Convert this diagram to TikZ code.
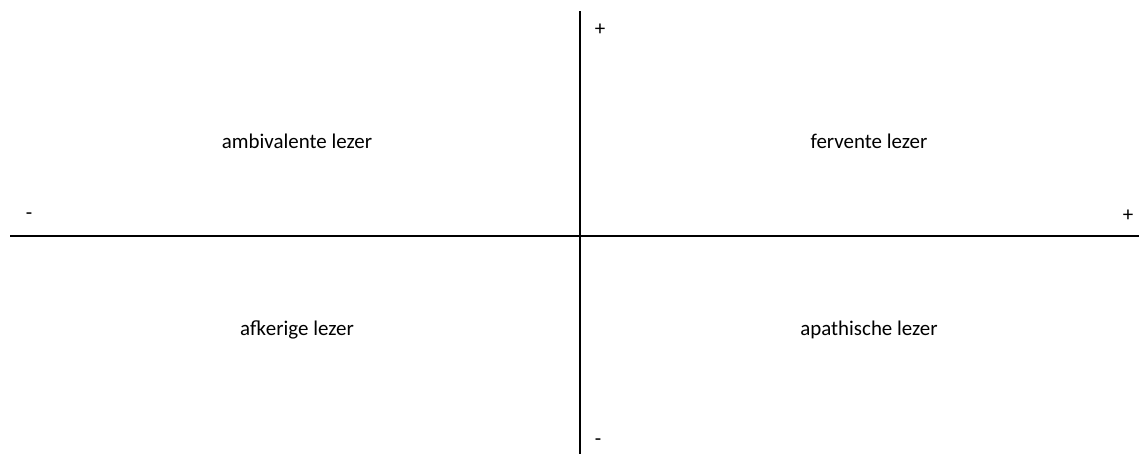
\documentclass[tikz,border=0pt]{standalone}
\usepackage{fontspec}
\setmainfont{Carlito}
\usetikzlibrary{positioning}

\begin{document}
\begin{tikzpicture}[x=0.75pt,y=-0.75pt,
  every node/.style={font=\fontsize{15.7}{18}\selectfont},
  axis/.style={line width=1.5pt}]
  \useasboundingbox (0,0) rectangle (1139,454);
  % axes
  \coordinate (top) at (580,11);
  \coordinate (bottom) at (580,454);
  \coordinate (left) at (10,236);
  \coordinate (right) at (1139,236);
  \draw[axis] (top) -- (bottom);
  \draw[axis] (left) -- (right);
  % signs
  \node (vplus) at (600,30) {+};
  \node (vminus) at (598,442) {-};
  \node (hminus) at (29,216) {-};
  \node (hplus) at (1128,216) {+};
  % quadrants
  \node (ambivalent) at (297,141) {ambivalente lezer};
  \node (fervent) at (869,141) {fervente lezer};
  \node (afkerig) at (297,330) {afkerige lezer};
  \node (apathisch) at (869,330) {apathische lezer};
\end{tikzpicture}
\end{document}
